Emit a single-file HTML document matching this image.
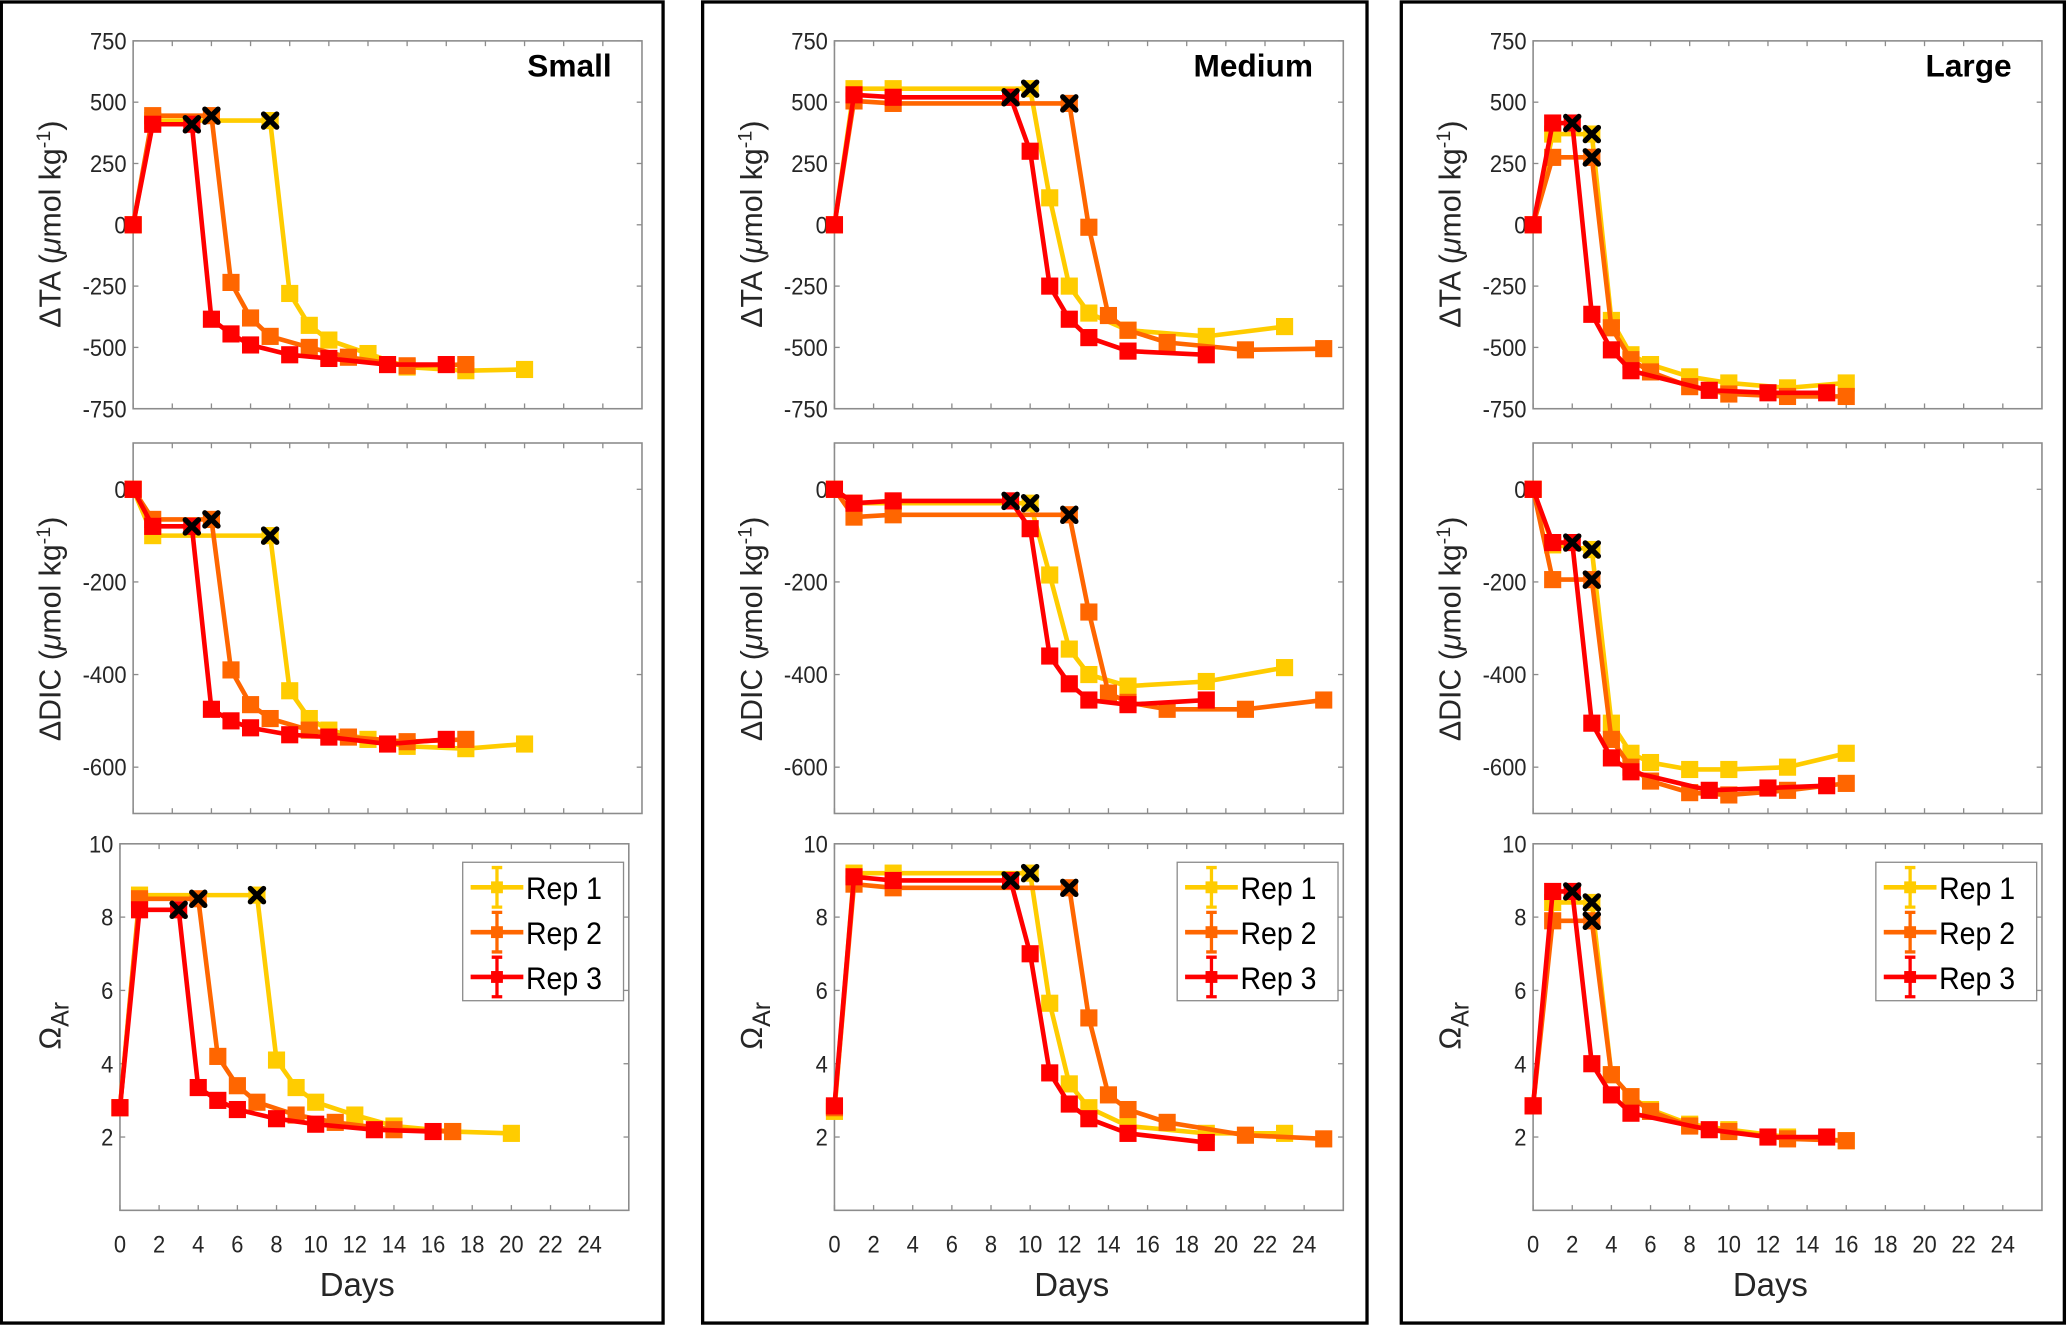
<!DOCTYPE html>
<html><head><meta charset="utf-8"><style>
html,body{margin:0;padding:0;background:#fff;}
svg{display:block;font-family:"Liberation Sans",sans-serif;}
</style></head><body>
<svg id="fig" width="2067" height="1329" viewBox="0 0 1568 1008" preserveAspectRatio="none" xmlns="http://www.w3.org/2000/svg"></svg>
<script>
// ---------- DATA ----------
const sizeNames = ["Small","Medium","Large"];
const repNames = ["Rep 1","Rep 2","Rep 3"];
// Small
const smallDays1 = [0,1,7,8,9,10,12,14,17,20];
const smallDays2 = [0,1,4,5,6,7,9,11,14,17];
const smallDays3 = [0,1,3,4,5,6,8,10,13,16];
const smallTA1 = [0,425,425,-280,-410,-470,-525,-580,-595,-590];
const smallTA2 = [0,445,445,-235,-380,-455,-500,-540,-575,-570];
const smallTA3 = [0,410,410,-385,-445,-490,-530,-545,-570,-570];
const smallDIC1 = [0,-100,-100,-435,-495,-520,-540,-555,-560,-550];
const smallDIC2 = [0,-65,-65,-390,-465,-495,-520,-535,-545,-540];
const smallDIC3 = [0,-80,-80,-475,-500,-515,-530,-535,-550,-540];
const smallOm1 = [2.8,8.6,8.6,4.1,3.35,2.95,2.6,2.3,2.15,2.1];
const smallOm2 = [2.8,8.5,8.5,4.2,3.4,2.95,2.6,2.4,2.2,2.15];
const smallOm3 = [2.8,8.2,8.2,3.35,3.0,2.75,2.5,2.35,2.2,2.15];
const smallXIdx = [2,2,2];
// Medium
const medDays1 = [0,1,3,10,11,12,13,15,19,23];
const medDays2 = [0,1,3,12,13,14,15,17,21,25];
const medDays3 = [0,1,3,9,10,11,12,13,15,19];
const medTA1 = [0,555,555,555,110,-250,-360,-430,-455,-415];
const medTA2 = [0,505,495,495,-10,-370,-430,-480,-510,-505];
const medTA3 = [0,530,520,520,300,-250,-385,-460,-515,-530];
const medDIC1 = [0,-30,-30,-30,-185,-345,-400,-425,-415,-385];
const medDIC2 = [0,-60,-55,-55,-265,-440,-460,-475,-475,-455];
const medDIC3 = [0,-30,-25,-25,-85,-360,-420,-455,-465,-455];
const medOm1 = [2.7,9.2,9.2,9.2,5.65,3.45,2.8,2.3,2.1,2.1];
const medOm2 = [2.8,8.9,8.8,8.8,5.25,3.15,2.75,2.4,2.05,1.95];
const medOm3 = [2.85,9.1,9.0,9.0,7.0,3.75,2.9,2.5,2.1,1.85];
const medXIdx = [3,3,3];
// Large
const largeDays1 = [0,1,3,4,5,6,8,10,13,16];
const largeDays2 = [0,1,3,4,5,6,8,10,13,16];
const largeDays3 = [0,1,2,3,4,5,9,12,15];
const largeTA1 = [0,370,370,-390,-530,-570,-620,-645,-665,-645];
const largeTA2 = [0,275,275,-420,-550,-600,-660,-690,-700,-700];
const largeTA3 = [0,415,415,-365,-510,-595,-675,-685,-685];
const largeDIC1 = [0,-120,-130,-505,-570,-590,-605,-605,-600,-570];
const largeDIC2 = [0,-195,-195,-540,-600,-630,-655,-660,-650,-635];
const largeDIC3 = [0,-115,-115,-505,-580,-610,-650,-645,-640];
const largeOm1 = [2.85,8.4,8.4,3.7,3.1,2.75,2.35,2.2,2.0,1.9];
const largeOm2 = [2.85,7.9,7.9,3.7,3.1,2.7,2.3,2.15,1.95,1.9];
const largeOm3 = [2.85,8.7,8.7,4.0,3.15,2.65,2.2,2.0,2.0];
const largeXIdx = [2,2,2];
// Axes ticks
const xTicks = [0,2,4,6,8,10,12,14,16,18,20,22,24];
const taTicks = [750,500,250,0,-250,-500,-750];
const dicTicks = [0,-200,-400,-600];
const omTicks = [2,4,6,8,10];

const colors = ["#FFCC00","#FF6600","#FF0000"];
const NS = "http://www.w3.org/2000/svg";
const fig = document.getElementById("fig");
function mk(tag, attrs, parent){
  const e = document.createElementNS(NS, tag);
  for (const k in attrs) e.setAttribute(k, attrs[k]);
  (parent||fig).appendChild(e); return e;
}

const panels = [
  {name:"small", left:1, right:503, title:"Small", days:[smallDays1,smallDays2,smallDays3], ta:[smallTA1,smallTA2,smallTA3], dic:[smallDIC1,smallDIC2,smallDIC3], om:[smallOm1,smallOm2,smallOm3], xi:smallXIdx, ax0:101, ax0b:91, legX:351},
  {name:"medium", left:533, right:1037, title:"Medium", days:[medDays1,medDays2,medDays3], ta:[medTA1,medTA2,medTA3], dic:[medDIC1,medDIC2,medDIC3], om:[medOm1,medOm2,medOm3], xi:medXIdx, ax0:633, ax0b:633, legX:893},
  {name:"large", left:1063, right:1566, title:"Large", days:[largeDays1,largeDays2,largeDays3], ta:[largeTA1,largeTA2,largeTA3], dic:[largeDIC1,largeDIC2,largeDIC3], om:[largeOm1,largeOm2,largeOm3], xi:largeXIdx, ax0:1163, ax0b:1163, legX:1423}
];

function drawAxes(g, box, ylim, yticks, showXLabels, prefix){
  const xs = v => box.x0 + (v-0)/26*(box.x1-box.x0);
  const ys = v => box.y1 - (v-ylim[0])/(ylim[1]-ylim[0])*(box.y1-box.y0);
  const frame = mk("rect",{x:box.x0,y:box.y0,width:box.x1-box.x0,height:box.y1-box.y0,fill:"none",stroke:"#8c8c8c","stroke-width":1.2},g);
  
  
  xTicks.forEach(t=>{
    const x = xs(t);
    mk("line",{x1:x,x2:x,y1:box.y1,y2:box.y1-4,stroke:"#8c8c8c","stroke-width":1},g);
    mk("line",{x1:x,x2:x,y1:box.y0,y2:box.y0+4,stroke:"#8c8c8c","stroke-width":1},g);
    if (showXLabels){
      const tl = mk("text",{x:x,y:box.y1+32,"font-size":18.5,"text-anchor":"middle",fill:"#262626",transform:`translate(${x},0) scale(0.9,1) translate(${-x},0)`},g);
      tl.textContent = t;
      
      
    }
  });
  yticks.forEach(t=>{
    const y = ys(t);
    mk("line",{x1:box.x0,x2:box.x0+4,y1:y,y2:y,stroke:"#8c8c8c","stroke-width":1},g);
    mk("line",{x1:box.x1,x2:box.x1-4,y1:y,y2:y,stroke:"#8c8c8c","stroke-width":1},g);
    const tx = box.x0-5;
    const tl = mk("text",{x:tx,y:y+6.5,"font-size":18.5,"text-anchor":"end",fill:"#262626",transform:`translate(${tx},0) scale(0.9,1) translate(${-tx},0)`},g);
    tl.textContent = t;
    
    
  });
  return {xs, ys};
}

function drawSeries(g, sc, days, vals, xi, prefix){
  for (let r=0;r<3;r++){
    const pts = days[r].map((d,i)=>sc.xs(d)+","+sc.ys(vals[r][i])).join(" ");
    const line = mk("polyline",{points:pts,fill:"none",stroke:colors[r],"stroke-width":3.5,"stroke-linejoin":"round"},g);
    
    
    days[r].forEach((d,i)=>{
      const x = sc.xs(d), y = sc.ys(vals[r][i]);
      const m = mk("rect",{x:x-6.5,y:y-6.5,width:13,height:13,fill:colors[r]},g);
      
      
    });
  }
  for (let r=0;r<3;r++){
    const i = xi[r];
    const x = sc.xs(days[r][i]), y = sc.ys(vals[r][i]);
    const cross = mk("path",{d:`M${x-5},${y-5}L${x+5},${y+5}M${x+5},${y-5}L${x-5},${y+5}`,stroke:"#000","stroke-width":4,"stroke-linecap":"round"},g);
    
    
  }
}

function ylabel(g, x, y, html, name){
  const t = mk("text",{x:0,y:0,"font-size":23,"text-anchor":"middle",fill:"#262626",transform:`translate(${x},${y}) rotate(-90)`},g);
  t.innerHTML = html;
  
  
}

panels.forEach(p=>{
  const g = mk("g",{});
  
  
  const border = mk("rect",{x:p.left,y:1.5,width:p.right-p.left,height:1002,fill:"none",stroke:"#000","stroke-width":2.5},g);
  
  
  const W = 386;
  const boxTA = {x0:p.ax0, x1:p.ax0+W, y0:31, y1:310};
  const sTA = drawAxes(g, boxTA, [-750,750], taTicks, false, p.name+'-ta');
  drawSeries(g, sTA, p.days, p.ta, p.xi, p.name+'-ta');
  const boxDIC = {x0:p.ax0, x1:p.ax0+W, y0:336, y1:617};
  const sDIC = drawAxes(g, boxDIC, [-700,100], dicTicks, false, p.name+'-dic');
  drawSeries(g, sDIC, p.days, p.dic, p.xi, p.name+'-dic');
  const boxOm = {x0:p.ax0b, x1:p.ax0b+W, y0:640, y1:918};
  const sOm = drawAxes(g, boxOm, [0,10], omTicks, true, p.name+'-omega');
  drawSeries(g, sOm, p.days, p.om, p.xi, p.name+'-omega');
  const lx = p.left+45;
  ylabel(g, lx, 170, 'ΔTA (<tspan font-style="italic">μ</tspan>mol kg<tspan dy="-8" font-size="15">-1</tspan><tspan dy="8">)</tspan>', p.name+'-ta-y-axis-title');
  ylabel(g, lx, 477, 'ΔDIC (<tspan font-style="italic">μ</tspan>mol kg<tspan dy="-8" font-size="15">-1</tspan><tspan dy="8">)</tspan>', p.name+'-dic-y-axis-title');
  ylabel(g, lx, 778, 'Ω<tspan dy="6" font-size="19">Ar</tspan>', p.name+'-omega-y-axis-title');
  const xl = mk("text",{x:boxOm.x0+W/2-13,y:983,"font-size":25,"text-anchor":"middle",fill:"#262626"},g);
  xl.textContent = "Days";
  
  
  const ti = mk("text",{x:boxTA.x1-23,y:58,"font-size":24,"font-weight":"bold","text-anchor":"end",fill:"#000"},g);
  ti.textContent = p.title;
  
  
  const lg = mk("g",{},g);
  
  
  mk("rect",{x:p.legX,y:654,width:122,height:105,fill:"#fff",stroke:"#8c8c8c","stroke-width":1},lg);
  repNames.forEach((rn,r)=>{
    const y = 673 + r*34;
    const lx0 = p.legX+6, lx1 = p.legX+46, cx = (lx0+lx1)/2;
    const ent = mk("g",{},lg);
    
    
    mk("line",{x1:lx0,x2:lx1,y1:y,y2:y,stroke:colors[r],"stroke-width":3.5},ent);
    mk("path",{d:`M${cx},${y-15}V${y+15}M${cx-4},${y-15}H${cx+4}M${cx-4},${y+15}H${cx+4}`,stroke:colors[r],"stroke-width":2.5,fill:"none"},ent);
    mk("rect",{x:cx-4.5,y:y-4.5,width:9,height:9,fill:colors[r]},ent);
    const tx = p.legX+48;
    const t = mk("text",{x:tx,y:y+9,"font-size":24,fill:"#000",transform:`translate(${tx},0) scale(0.9,1) translate(${-tx},0)`},ent);
    t.textContent = rn;
  });
});
</script>
</body></html>
